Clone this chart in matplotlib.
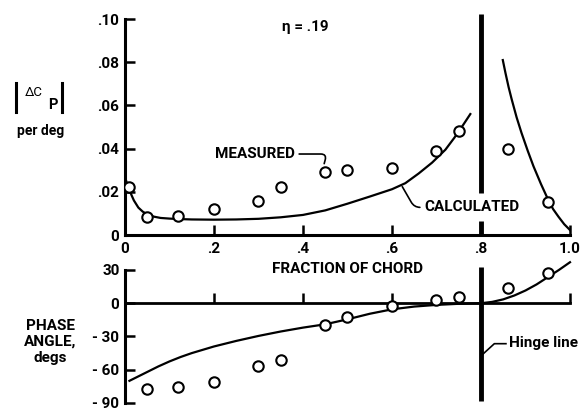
import numpy as np
import matplotlib
matplotlib.use('Agg')
import matplotlib.pyplot as plt
from matplotlib import font_manager
from matplotlib.lines import Line2D

# pick a narrow, heavy sans if the machine has one
names = {f.name for f in font_manager.fontManager.ttflist}
if 'Roboto' in names:
    fam, wt, fs = 'Roboto', 'bold', 11
else:
    fam, wt, fs = 'DejaVu Sans', 'normal', 10
plt.rcParams['font.family'] = [fam, 'DejaVu Sans']
plt.rcParams['font.weight'] = wt
plt.rcParams['font.size'] = fs

# |dCp| per deg, calculated (two branches, split at hinge line x = .8)
calc_x_fwd = [0.0, 0.005, 0.01, 0.015, 0.02, 0.03, 0.04, 0.05, 0.065, 0.08,
              0.1, 0.12, 0.15, 0.2, 0.25, 0.3, 0.35, 0.4, 0.45, 0.5, 0.55,
              0.6, 0.63, 0.66, 0.69, 0.72, 0.74, 0.76, 0.776]
calc_y_fwd = [0.0265, 0.0238, 0.0210, 0.0183, 0.0160, 0.0127, 0.0108, 0.0096,
              0.0085, 0.0079, 0.0076, 0.0074, 0.0072, 0.0071, 0.0072, 0.0075,
              0.0082, 0.0093, 0.0114, 0.0145, 0.0178, 0.0212, 0.0240, 0.0285,
              0.0335, 0.0395, 0.0450, 0.0510, 0.0560]
calc_x_aft = [0.849, 0.855, 0.862, 0.869, 0.88, 0.891, 0.905, 0.918, 0.935,
              0.951, 0.962, 0.974, 0.987, 1.0]
calc_y_aft = [0.081, 0.075, 0.0685, 0.0628, 0.0545, 0.0473, 0.039, 0.0318,
              0.0235, 0.0163, 0.012, 0.0085, 0.005, 0.0023]

# |dCp| per deg, measured
meas_x = [0.01, 0.05, 0.12, 0.2, 0.3, 0.35, 0.45, 0.5, 0.6, 0.7, 0.75, 0.86, 0.95]
meas_y = [0.022, 0.0084, 0.0088, 0.012, 0.0158, 0.022, 0.029, 0.030, 0.031,
          0.039, 0.048, 0.040, 0.0153]

# phase angle, degs
phase_calc_x = [0.01, 0.03, 0.05, 0.075, 0.1, 0.125, 0.15, 0.2, 0.25, 0.3,
                0.35, 0.4, 0.45, 0.5, 0.55, 0.6, 0.65, 0.7, 0.75, 0.8, 0.825,
                0.85, 0.875, 0.9, 0.925, 0.95, 0.975, 1.0]
phase_calc_y = [-70, -66, -62, -57, -52.5, -48.5, -45, -39, -34, -29.5,
                -25.5, -22, -19, -14.5, -9.5, -5.5, -3, -1.5, -0.5, 0, 1.2,
                3.5, 7, 11.5, 17, 23.5, 30, 37]
phase_meas_x = [0.05, 0.12, 0.2, 0.3, 0.35, 0.45, 0.5, 0.6, 0.7, 0.75, 0.86, 0.95]
phase_meas_y = [-77, -76, -71, -57, -51, -20, -12.5, -2.5, 2.5, 6, 14, 27]

xticks = [0, 0.2, 0.4, 0.6, 0.8, 1.0]
xtick_labels = ['0', '.2', '.4', '.6', '.8', '1.0']
cp_ticks = [0, 0.02, 0.04, 0.06, 0.08, 0.10]
cp_labels = ['0', '.02', '.04', '.06', '.08', '.10']
ph_ticks = [-90, -60, -30, 0, 30]
ph_labels = ['- 90', '- 60', '- 30', '0', '30']

hinge = 0.8
k = 'k'

fig = plt.figure(figsize=(5.86, 4.11), dpi=100)
ax2 = fig.add_axes([0.2133, 0.0195, 0.7594, 0.3236])
ax1 = fig.add_axes([0.2133, 0.4282, 0.7594, 0.5255])
ax1.patch.set_visible(False)
ax2.patch.set_visible(False)

# ---- top: magnitude
ax1.plot(calc_x_fwd, calc_y_fwd, color=k, lw=1.6, zorder=2)
ax1.plot(calc_x_aft, calc_y_aft, color=k, lw=1.6, zorder=2)
ax1.plot(meas_x, meas_y, 'o', ms=7.5, mfc='white', mec=k, mew=1.5, zorder=3)

ax1.set_xlim(0, 1.0)
ax1.set_ylim(0, 0.10)
ax1.set_xticks(xticks)
ax1.set_xticklabels(xtick_labels)
ax1.set_yticks(cp_ticks)
ax1.set_yticklabels(cp_labels)
ax1.spines['top'].set_visible(False)
ax1.spines['right'].set_visible(False)
for s in ['left', 'bottom']:
    ax1.spines[s].set_linewidth(2.2)
ax1.tick_params(axis='both', direction='in', width=1.8, length=7)
ax1.tick_params(axis='x', pad=5)
ax1.tick_params(axis='y', pad=4)

# hinge line (top part, broken just above the axis)
ax1.plot([hinge, hinge], [0.1023, 0.0195], color=k, lw=3.5, clip_on=False, solid_capstyle='butt')
ax1.plot([hinge, hinge], [0.0065, 0.0], color=k, lw=3.5, clip_on=False, solid_capstyle='butt')

ax1.text(0.404, 0.0963, 'η = .19', ha='center', va='center')
ax1.annotate('MEASURED', xy=(0.446, 0.0318), xytext=(0.382, 0.0375),
             ha='right', va='center',
             arrowprops=dict(arrowstyle='-', color=k, lw=1.2, shrinkA=1,
                             connectionstyle='angle,angleA=0,angleB=75,rad=6'))
ax1.annotate('CALCULATED', xy=(0.62, 0.0235), xytext=(0.672, 0.0128),
             ha='left', va='center',
             arrowprops=dict(arrowstyle='-', color=k, lw=1.2, shrinkA=1,
                             connectionstyle='angle,angleA=180,angleB=-60,rad=6'))
ax1.text(0.5, -0.0158, 'FRACTION OF CHORD', ha='center', va='center')

# ---- bottom: phase angle
ax2.plot(phase_calc_x, phase_calc_y, color=k, lw=1.6, zorder=2, clip_on=False)
ax2.plot(phase_meas_x, phase_meas_y, 'o', ms=7.5, mfc='white', mec=k, mew=1.5,
         zorder=3, clip_on=False)
ax2.set_xlim(0, 1.0)
ax2.set_ylim(-90, 30)
ax2.set_yticks(ph_ticks)
ax2.set_yticklabels(ph_labels)
ax2.set_xticks(xticks)
ax2.set_xticklabels([])
ax2.spines['top'].set_visible(False)
ax2.spines['right'].set_visible(False)
ax2.spines['bottom'].set_position(('data', 0))
ax2.spines['bottom'].set_linewidth(2.0)
ax2.spines['left'].set_linewidth(2.2)
ax2.tick_params(axis='both', direction='in', width=1.8, length=7)
ax2.tick_params(axis='y', pad=4)

ax2.plot([hinge, hinge], [33, -88], color=k, lw=3.5, clip_on=False, solid_capstyle='butt')
# leader from the hinge line to its label
ax2.plot([hinge + 0.004, 0.83, 0.856], [-46, -36.5, -36.5], color=k, lw=1.2)
ax2.text(0.862, -36, 'Hinge line', ha='left', va='center')

# y axis titles: |dCp| with tall bars, small raised dC and subscript P
W, H = 586, 411
for bx in (16, 62):
    fig.add_artist(Line2D([bx / W, bx / W], [1 - 83 / H, 1 - 112 / H],
                          transform=fig.transFigure, color=k, lw=2.2))
fig.text(34 / W, 1 - 92 / H, 'ΔC', ha='center', va='center', fontsize=9.5,
         fontweight='normal')
fig.text(53 / W, 1 - 105 / H, 'P', ha='center', va='center', fontsize=10.5)
fig.text(41 / W, 1 - 131 / H, 'per deg', ha='center', va='center', fontsize=10)
fig.text(50 / W, 1 - 342 / H, 'PHASE\nANGLE,\ndegs', ha='center', va='center',
         linespacing=1.2)

fig.savefig('out.png', dpi=100)
